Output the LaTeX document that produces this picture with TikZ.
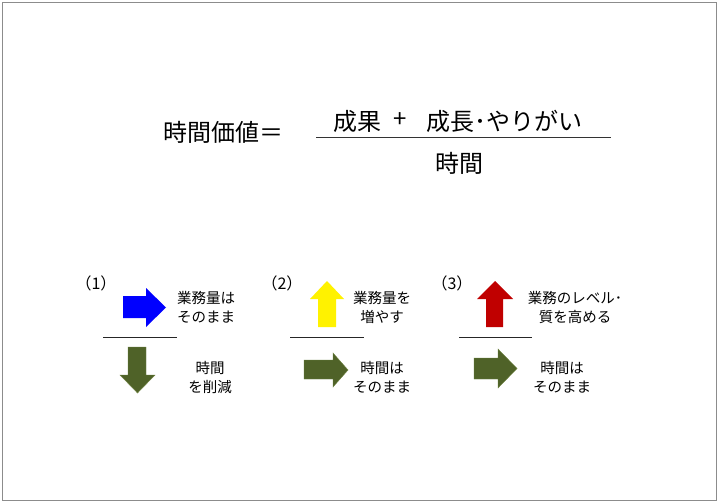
\documentclass[tikz,border=0pt]{standalone}
\usepackage{fontspec}
\setmainfont{Noto Sans CJK JP}
\definecolor{olivegreen}{HTML}{4F6228}
\definecolor{oliveedge}{HTML}{6E8240}
\definecolor{darkred}{HTML}{C00000}
\begin{document}
\begin{tikzpicture}[x=1bp,y=-1bp,
  big/.style={inner sep=0pt,font=\fontsize{24bp}{28bp}\selectfont},
  small/.style={inner sep=0pt,align=center,font=\fontsize{14.5bp}{19.5bp}\selectfont},
  label/.style={inner sep=0pt,font=\fontsize{16bp}{19bp}\selectfont},
  rule/.style={draw=black!85,line width=0.9bp},
  bluefill/.style={fill=blue},
  yellowfill/.style={fill=yellow},
  redfill/.style={fill=darkred},
  greenfill/.style={fill=olivegreen, draw=oliveedge, line width=0.4bp},
]
\useasboundingbox (0,0) rectangle (720,503);
\fill[white] (0,0) rectangle (720,503);
\draw[black!45,line width=1.5bp] (2.5,2.5) rectangle (716.5,500.5);

% formula
\node[big] (lhs) at (223,132) {時間価値＝};
\node[big] (num1) at (357,121) {成果};
\node[big] (plus) at (400,120) {+};
\node[big,anchor=west] (num2) at (426,121) {成長･やりがい};
\node[big] (den) at (459,163) {時間};
\coordinate (fl) at (316,137);
\coordinate (fr) at (611,137);
\draw[black!80,line width=0.9bp] (fl) -- (fr);

% (1)
\node[label] (p1) at (96,283) {（1）};
\fill[bluefill] (123,296) -- (146,296) -- (146,288) -- (166,307.5) -- (146,327) -- (146,318) -- (123,318) -- cycle;
\node[small] (t1a) at (206,307.5) {業務量は\\そのまま};
\coordinate (l1a) at (103,337);
\coordinate (l1b) at (177,337);
\draw[rule] (l1a) -- (l1b);
\filldraw[greenfill] (128,347) -- (146,347) -- (146,375) -- (155,375) -- (137.5,393) -- (120,375) -- (128,375) -- cycle;
\node[small] (t1b) at (210,377.5) {時間\\を削減};

% (2)
\node[label] (p2) at (282,283) {（2）};
\fill[yellowfill] (318,327) -- (336,327) -- (336,299) -- (344,299) -- (327,281) -- (310,299) -- (318,299) -- cycle;
\node[small] (t2a) at (382,307.5) {業務量を\\増やす};
\coordinate (l2a) at (290,337);
\coordinate (l2b) at (364,337);
\draw[rule] (l2a) -- (l2b);
\filldraw[greenfill] (304,360) -- (333,360) -- (333,353) -- (348,370) -- (333,387) -- (333,379) -- (304,379) -- cycle;
\node[small] (t2b) at (382,377.5) {時間は\\そのまま};

% (3)
\node[label] (p3) at (452,283) {（3）};
\fill[redfill] (486,327) -- (503,327) -- (503,299) -- (513,299) -- (495,281) -- (477,299) -- (486,299) -- cycle;
\node[small] (t3a) at (575,307.5) {業務のレベル･\\質を高める};
\coordinate (l3a) at (459,337);
\coordinate (l3b) at (532,337);
\draw[rule] (l3a) -- (l3b);
\filldraw[greenfill] (474,358) -- (498,358) -- (498,349) -- (517,368.5) -- (498,388) -- (498,379) -- (474,379) -- cycle;
\node[small] (t3b) at (562,377.5) {時間は\\そのまま};
\end{tikzpicture}
\end{document}
